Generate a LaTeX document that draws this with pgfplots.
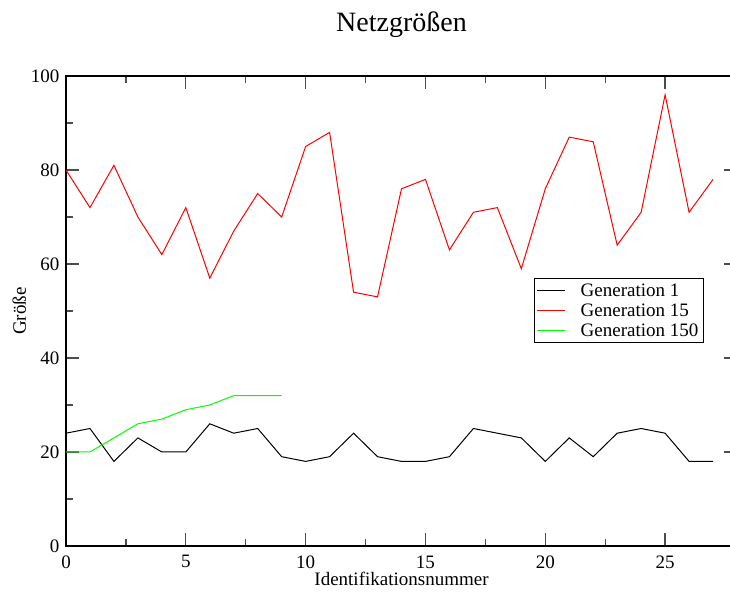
\documentclass[border=0pt]{standalone}
\usepackage{fontspec}
\setmainfont{Liberation Serif}
\usepackage{pgfplots}
\pgfplotsset{compat=1.18}
\definecolor{pgreen}{RGB}{0,255,0}
\definecolor{pred}{RGB}{255,0,0}
\begin{document}
\begin{tikzpicture}
\begin{axis}[
  scale only axis,
  width=671pt, height=470pt,
  xmin=0, xmax=28, ymin=0, ymax=100,
  xtick={0,5,10,15,20,25},
  ytick={0,20,40,60,80,100},
  minor x tick num=1, minor y tick num=1,
  major tick length=13pt, minor tick length=7pt,
  tick style={line width=1.3pt, color=black!70},
  axis line style={line width=1.3pt},
  /pgf/number format/assume math mode=true,
  tick label style={font=\fontsize{19}{22}\selectfont},
  xticklabel style={yshift=-6pt},
  yticklabel style={xshift=-3pt},
  label style={font=\fontsize{19}{22}\selectfont},
  xlabel={Identifikationsnummer},
  ylabel={Größe},
  xlabel style={yshift=3pt},
  ylabel style={yshift=-2pt},
  title={Netzgrößen},
  title style={font=\fontsize{28}{32}\selectfont, yshift=29pt},
  legend style={at={(axis cs:19.54,57.0)}, anchor=north west,
    font=\fontsize{19}{22}\selectfont, line width=0.8pt,
    inner xsep=2pt, inner ysep=3pt, row sep=2pt, column sep=12pt,
    nodes={inner xsep=3pt}},
  legend cell align=left,
  legend image code/.code={\draw[#1, line width=1pt] (0pt,0pt) -- (28pt,0pt);},
]
\addplot[black, line width=1pt] coordinates {
(0,24) (1,25) (2,18) (3,23) (4,20) (5,20) (6,26) (7,24) (8,25) (9,19)
(10,18) (11,19) (12,24) (13,19) (14,18) (15,18) (16,19) (17,25) (18,24) (19,23)
(20,18) (21,23) (22,19) (23,24) (24,25) (25,24) (26,18) (27,18)};
\addlegendentry{Generation 1}
\addplot[color=pred, line width=1pt] coordinates {
(0,80) (1,72) (2,81) (3,70) (4,62) (5,72) (6,57) (7,67) (8,75) (9,70)
(10,85) (11,88) (12,54) (13,53) (14,76) (15,78) (16,63) (17,71) (18,72) (19,59)
(20,76) (21,87) (22,86) (23,64) (24,71) (25,96) (26,71) (27,78)};
\addlegendentry{Generation 15}
\addplot[color=pgreen, line width=1pt] coordinates {
(0,20) (1,20) (2,23) (3,26) (4,27) (5,29) (6,30) (7,32) (8,32) (9,32)};
\addlegendentry{Generation 150}
\end{axis}
\pgfresetboundingbox
\useasboundingbox (-66pt,-45pt) rectangle (664pt,546pt);
\end{tikzpicture}
\end{document}
